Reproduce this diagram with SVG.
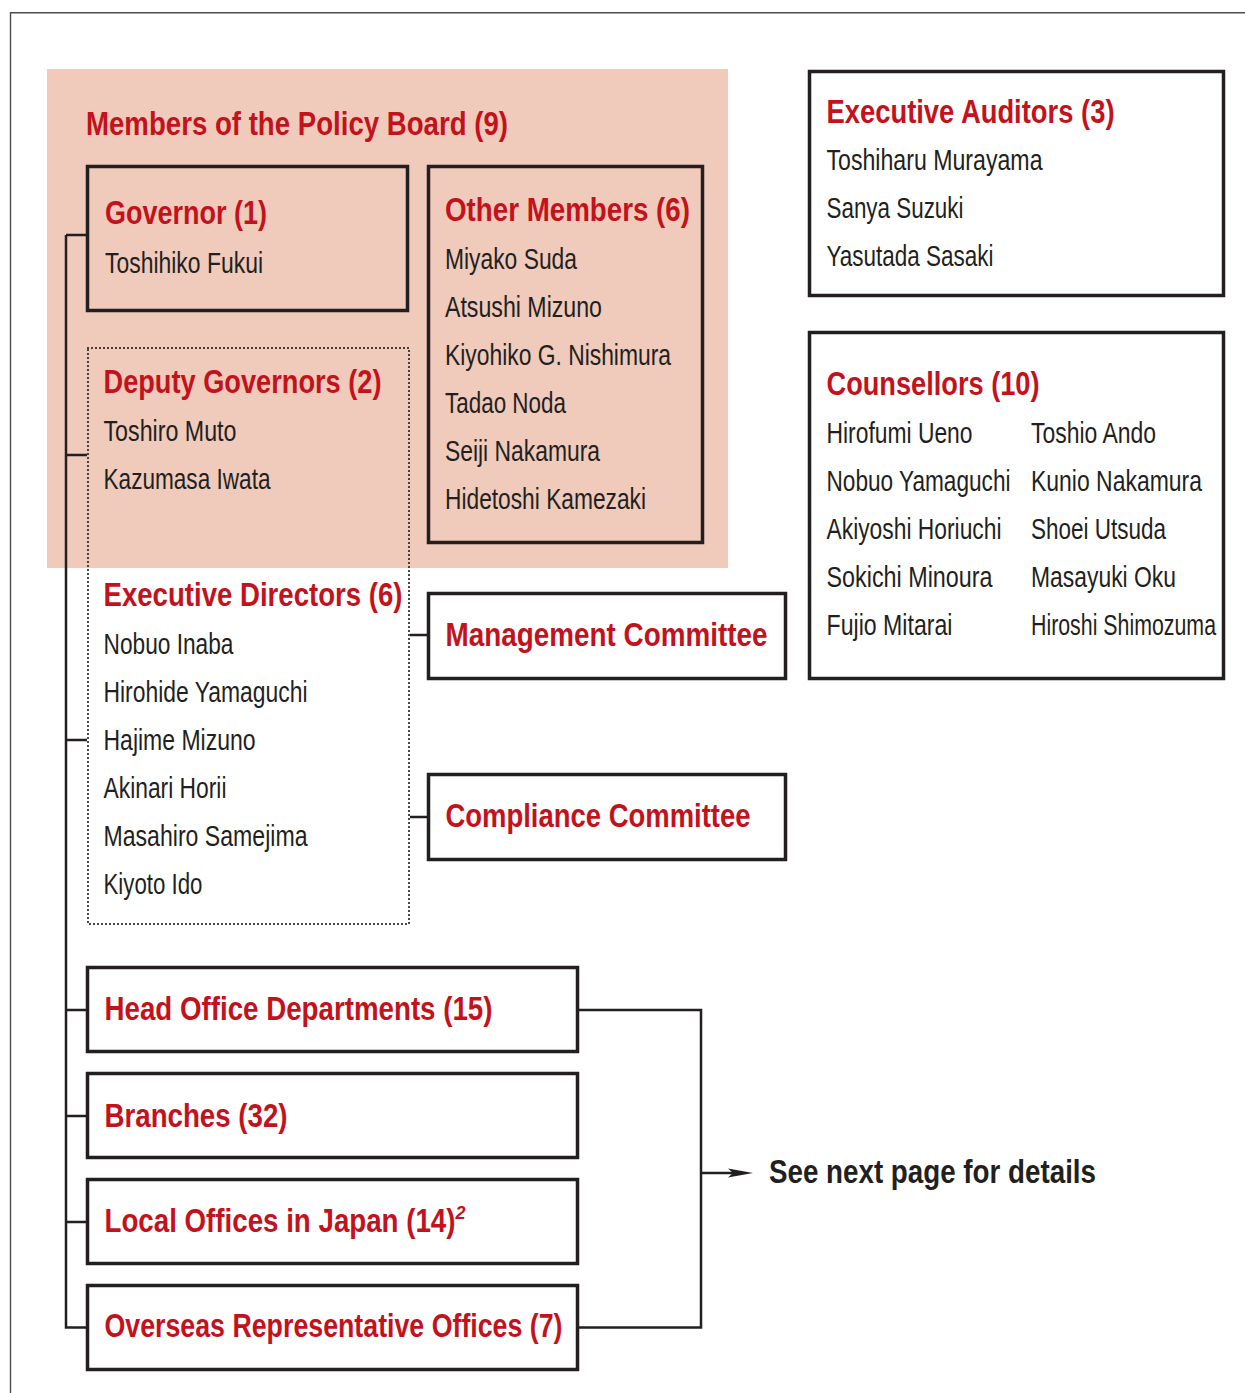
<svg xmlns="http://www.w3.org/2000/svg" width="1245" height="1393" viewBox="0 0 1245 1393">
<style>
text{font-family:"Liberation Sans Narrow","Liberation Sans",Arial,sans-serif;}
.t{font-size:32.5px;font-weight:bold;fill:#c4121c;}
.n{font-size:29px;fill:#231f20;}
.b{fill:none;stroke:#231f20;stroke-width:3.5;}
.d{fill:none;stroke:#231f20;stroke-width:2.2;stroke-dasharray:0 4;stroke-linecap:round;}
.c{fill:none;stroke:#231f20;stroke-width:2.5;}
</style>
<rect width="1245" height="1393" fill="#ffffff"/>
<path d="M10.5,1393 V12.7 H1245" fill="none" stroke="#4d4d4d" stroke-width="1.4"/>
<rect x="47" y="69" width="681" height="499" fill="#f0cabb"/>
<text class="t" x="86" y="135" textLength="422" lengthAdjust="spacingAndGlyphs">Members of the Policy Board (9)</text>

<g id="connectors">
<path class="c" d="M66,235 V1327.5 H86 M66,235 H86 M66,455 H87 M66,740 H87 M66,1010 H86 M66,1116 H86 M66,1222 H86"/>
<path class="c" d="M410,635 H427 M410,817 H427"/>
<path class="c" d="M579,1010 H701 V1327.5 H579 M701,1173 H735"/>
<polygon points="753,1173 728,1168.5 733,1173 728,1177.5" fill="#231f20"/>
</g>

<g id="governor">
<rect class="b" x="87.5" y="166.5" width="320" height="144"/>
<text class="t" x="105" y="224" textLength="162" lengthAdjust="spacingAndGlyphs">Governor (1)</text>
<text class="n" x="105" y="273" textLength="158" lengthAdjust="spacingAndGlyphs">Toshihiko Fukui</text>
</g>

<g id="other-members">
<rect class="b" x="428.5" y="166.5" width="274" height="376"/>
<text class="t" x="445" y="221" textLength="245" lengthAdjust="spacingAndGlyphs">Other Members (6)</text>
<text class="n" x="445" y="269" textLength="132" lengthAdjust="spacingAndGlyphs">Miyako Suda</text>
<text class="n" x="445" y="317" textLength="157" lengthAdjust="spacingAndGlyphs">Atsushi Mizuno</text>
<text class="n" x="445" y="365" textLength="226" lengthAdjust="spacingAndGlyphs">Kiyohiko G. Nishimura</text>
<text class="n" x="445" y="413" textLength="121" lengthAdjust="spacingAndGlyphs">Tadao Noda</text>
<text class="n" x="445" y="461" textLength="155" lengthAdjust="spacingAndGlyphs">Seiji Nakamura</text>
<text class="n" x="445" y="509" textLength="201" lengthAdjust="spacingAndGlyphs">Hidetoshi Kamezaki</text>
</g>

<g id="deputy-and-executive">
<rect class="d" x="88" y="348" width="321" height="576"/>
<text class="t" x="103.5" y="393" textLength="278" lengthAdjust="spacingAndGlyphs">Deputy Governors (2)</text>
<text class="n" x="103.5" y="441" textLength="133" lengthAdjust="spacingAndGlyphs">Toshiro Muto</text>
<text class="n" x="103.5" y="489" textLength="167" lengthAdjust="spacingAndGlyphs">Kazumasa Iwata</text>
<text class="t" x="103.5" y="606" textLength="299" lengthAdjust="spacingAndGlyphs">Executive Directors (6)</text>
<text class="n" x="103.5" y="654" textLength="130" lengthAdjust="spacingAndGlyphs">Nobuo Inaba</text>
<text class="n" x="103.5" y="702" textLength="204" lengthAdjust="spacingAndGlyphs">Hirohide Yamaguchi</text>
<text class="n" x="103.5" y="750" textLength="152" lengthAdjust="spacingAndGlyphs">Hajime Mizuno</text>
<text class="n" x="103.5" y="798" textLength="123" lengthAdjust="spacingAndGlyphs">Akinari Horii</text>
<text class="n" x="103.5" y="846" textLength="204" lengthAdjust="spacingAndGlyphs">Masahiro Samejima</text>
<text class="n" x="103.5" y="894" textLength="99" lengthAdjust="spacingAndGlyphs">Kiyoto Ido</text>
</g>

<g id="management-committee">
<rect class="b" x="428.5" y="593.5" width="357" height="85"/>
<text class="t" x="445.5" y="646" textLength="322" lengthAdjust="spacingAndGlyphs">Management Committee</text>
</g>

<g id="compliance-committee">
<rect class="b" x="428.5" y="774.5" width="357" height="85"/>
<text class="t" x="445.5" y="827" textLength="305" lengthAdjust="spacingAndGlyphs">Compliance Committee</text>
</g>

<g id="executive-auditors">
<rect class="b" x="809.5" y="71.5" width="414" height="224"/>
<text class="t" x="826.5" y="123" textLength="288" lengthAdjust="spacingAndGlyphs">Executive Auditors (3)</text>
<text class="n" x="826.5" y="170" textLength="216" lengthAdjust="spacingAndGlyphs">Toshiharu Murayama</text>
<text class="n" x="826.5" y="218" textLength="137" lengthAdjust="spacingAndGlyphs">Sanya Suzuki</text>
<text class="n" x="826.5" y="266" textLength="167" lengthAdjust="spacingAndGlyphs">Yasutada Sasaki</text>
</g>

<g id="counsellors">
<rect class="b" x="809.5" y="332.5" width="414" height="346"/>
<text class="t" x="826.5" y="395" textLength="213" lengthAdjust="spacingAndGlyphs">Counsellors (10)</text>
<text class="n" x="826.5" y="443" textLength="146" lengthAdjust="spacingAndGlyphs">Hirofumi Ueno</text>
<text class="n" x="826.5" y="491" textLength="184" lengthAdjust="spacingAndGlyphs">Nobuo Yamaguchi</text>
<text class="n" x="826.5" y="539" textLength="175" lengthAdjust="spacingAndGlyphs">Akiyoshi Horiuchi</text>
<text class="n" x="826.5" y="587" textLength="166" lengthAdjust="spacingAndGlyphs">Sokichi Minoura</text>
<text class="n" x="826.5" y="635" textLength="126" lengthAdjust="spacingAndGlyphs">Fujio Mitarai</text>
<text class="n" x="1031" y="443" textLength="125" lengthAdjust="spacingAndGlyphs">Toshio Ando</text>
<text class="n" x="1031" y="491" textLength="171" lengthAdjust="spacingAndGlyphs">Kunio Nakamura</text>
<text class="n" x="1031" y="539" textLength="135" lengthAdjust="spacingAndGlyphs">Shoei Utsuda</text>
<text class="n" x="1031" y="587" textLength="145" lengthAdjust="spacingAndGlyphs">Masayuki Oku</text>
<text class="n" x="1031" y="635" textLength="185" lengthAdjust="spacingAndGlyphs">Hiroshi Shimozuma</text>
</g>

<g id="head-office">
<rect class="b" x="87.5" y="967.5" width="490" height="84"/>
<text class="t" x="104.5" y="1020" textLength="388" lengthAdjust="spacingAndGlyphs">Head Office Departments (15)</text>
</g>

<g id="branches">
<rect class="b" x="87.5" y="1073.5" width="490" height="84"/>
<text class="t" x="104.5" y="1127" textLength="183" lengthAdjust="spacingAndGlyphs">Branches (32)</text>
</g>

<g id="local-offices">
<rect class="b" x="87.5" y="1179.5" width="490" height="84"/>
<text class="t" x="104.5" y="1232"><tspan textLength="351" lengthAdjust="spacingAndGlyphs">Local Offices in Japan (14)</tspan><tspan dy="-13" style="font-size:18px;font-style:italic">2</tspan></text>
</g>

<g id="overseas-offices">
<rect class="b" x="87.5" y="1285.5" width="490" height="84"/>
<text class="t" x="104.5" y="1337" textLength="458" lengthAdjust="spacingAndGlyphs">Overseas Representative Offices (7)</text>
</g>

<g id="see-next-page">
<text x="769" y="1183" style="font-size:33px;font-weight:bold;fill:#231f20" textLength="327" lengthAdjust="spacingAndGlyphs">See next page for details</text>
</g>
</svg>
